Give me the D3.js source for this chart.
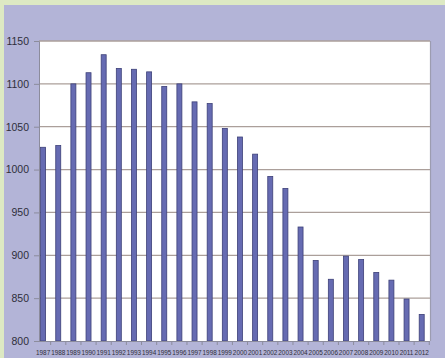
<!DOCTYPE html>
<html>
<head>
<meta charset="utf-8">
<script src="https://cdn.jsdelivr.net/npm/d3@7/dist/d3.min.js"></script>
<style>
  html, body { margin: 0; padding: 0; background: #b3b4d7; }
  svg { display: block; }
  text { font-family: "Liberation Sans", Arial, sans-serif; fill: #2e2e3a; }
</style>
</head>
<body>
<svg id="chart" width="445" height="358"></svg>
<script>
// Yearly totals, 1987–2012
const years = ["1987","1988","1989","1990","1991","1992","1993","1994","1995","1996","1997","1998","1999",
               "2000","2001","2002","2003","2004","2005","2006","2007","2008","2009","2010","2011","2012"];
const values = [1026, 1028, 1100, 1113, 1134, 1118, 1117, 1114, 1097, 1100, 1079, 1077, 1048,
                1038, 1018, 992, 978, 933, 894, 872, 899, 895, 880, 871, 849, 831];
const yTicks = [800, 850, 900, 950, 1000, 1050, 1100, 1150];

const W = 445, H = 358;
const plot = { left: 39, right: 430, top: 41, bottom: 341 };

const svg = d3.select("#chart");

// page background with the light green strips along top and left
svg.append("rect").attr("x", 0).attr("y", 0).attr("width", W).attr("height", H).attr("fill", "#b3b4d7");
svg.append("rect").attr("x", 0).attr("y", 0).attr("width", W).attr("height", 5).attr("fill", "#dde9c3");
svg.append("rect").attr("x", 0).attr("y", 0).attr("width", 4).attr("height", H).attr("fill", "#dde9c3");

const y = d3.scaleLinear().domain([800, 1150]).range([plot.bottom, plot.top]);
const x = d3.scaleBand().domain(years).range([35.6, 429.2]).paddingInner(0.67).paddingOuter(0.33);

// plot area
svg.append("rect")
  .attr("x", plot.left).attr("y", plot.top)
  .attr("width", plot.right - plot.left).attr("height", plot.bottom - plot.top)
  .attr("fill", "#ffffff");
svg.append("line")
  .attr("x1", plot.right + 0.5).attr("x2", plot.right + 0.5)
  .attr("y1", plot.top).attr("y2", plot.bottom)
  .attr("stroke", "#9c9cb0").attr("stroke-width", 1.2);

// horizontal gridlines
svg.append("g").selectAll("line").data(yTicks.filter(d => d > 800)).join("line")
  .attr("x1", plot.left).attr("x2", plot.right)
  .attr("y1", d => y(d)).attr("y2", d => y(d))
  .attr("stroke", "#ab9f9a").attr("stroke-width", 1.3);

// bars
svg.append("g").selectAll("rect").data(values).join("rect")
  .attr("x", (d, i) => x(years[i]))
  .attr("width", x.bandwidth())
  .attr("y", d => y(d))
  .attr("height", d => y(800) - y(d))
  .attr("fill", "#666bb2")
  .attr("stroke", "#3d4078")
  .attr("stroke-width", 0.8);

// y axis
const yAxis = d3.axisLeft(y).tickValues(yTicks).tickSize(5).tickPadding(5).tickFormat(d3.format("d"));
const gy = svg.append("g").attr("transform", `translate(${plot.left},0)`).call(yAxis);
gy.select(".domain").attr("stroke", "#8c8c9c");
gy.selectAll(".tick line").attr("stroke", "#8c8c9c");
gy.selectAll(".tick text").attr("font-size", 10.5).attr("fill", "#33333f")
  .attr("font-family", "Liberation Sans, Arial, sans-serif");

// x axis: ticks between bars, year labels under each bar
const step = x.step();
svg.append("line")
  .attr("x1", plot.left).attr("x2", plot.right)
  .attr("y1", plot.bottom + 0.5).attr("y2", plot.bottom + 0.5)
  .attr("stroke", "#8c8c9c");
svg.append("g").selectAll("line").data(years).join("line")
  .attr("x1", d => x(d) + x.bandwidth() / 2 + step / 2)
  .attr("x2", d => x(d) + x.bandwidth() / 2 + step / 2)
  .attr("y1", plot.bottom).attr("y2", plot.bottom + 4)
  .attr("stroke", "#8c8c9c");

// small year labels, one per bar, fitting within a band step
svg.append("g").selectAll("text").data(years).join("text")
  .attr("x", d => x(d) + x.bandwidth() / 2)
  .attr("y", 354.5)
  .attr("text-anchor", "middle")
  .attr("font-size", 6.4)
  .attr("fill", "#33333f")
  .text(d => d);
</script>
</body>
</html>
